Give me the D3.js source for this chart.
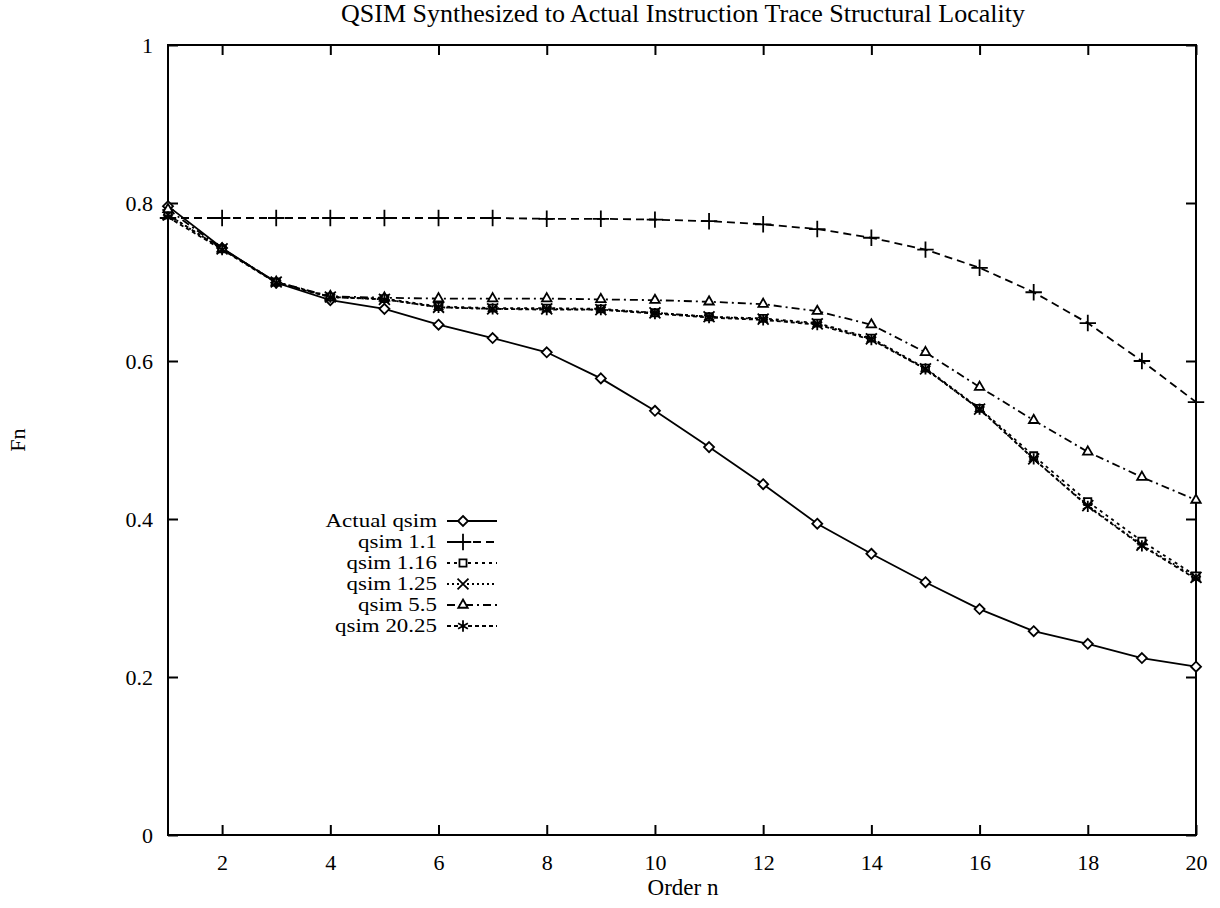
<!DOCTYPE html>
<html>
<head>
<meta charset="utf-8">
<script src="https://cdn.jsdelivr.net/npm/d3@7"></script>
<style>
  body { margin: 0; background: #fff; }
  text { font-family: "Liberation Serif", "Times New Roman", serif; fill: #000; }
</style>
</head>
<body>
<div id="wrapper"></div>
<script>
const orders = [1, 2, 3, 4, 5, 6, 7, 8, 9, 10, 11, 12, 13, 14, 15, 16, 17, 18, 19, 20];
const xTicks = [2, 4, 6, 8, 10, 12, 14, 16, 18, 20];
const yTicks = [0, 0.2, 0.4, 0.6, 0.8, 1];

const actualQsim = [0.796, 0.743, 0.699, 0.677, 0.666, 0.646, 0.629, 0.611, 0.578, 0.537,
  0.491, 0.444, 0.394, 0.356, 0.320, 0.286, 0.258, 0.242, 0.224, 0.213];
const qsim11 = [0.781, 0.781, 0.781, 0.781, 0.781, 0.781, 0.781, 0.780, 0.780, 0.779,
  0.777, 0.773, 0.767, 0.756, 0.741, 0.718, 0.687, 0.648, 0.600, 0.548];
const qsim116 = [0.785, 0.742, 0.700, 0.681, 0.679, 0.669, 0.667, 0.667, 0.666, 0.661,
  0.656, 0.654, 0.648, 0.629, 0.591, 0.540, 0.480, 0.422, 0.372, 0.328];
const qsim125 = [0.785, 0.742, 0.700, 0.681, 0.678, 0.668, 0.666, 0.666, 0.665, 0.661,
  0.656, 0.653, 0.647, 0.628, 0.590, 0.539, 0.476, 0.417, 0.367, 0.326];
const qsim55 = [0.792, 0.742, 0.700, 0.682, 0.680, 0.679, 0.679, 0.679, 0.678, 0.677,
  0.675, 0.672, 0.663, 0.646, 0.611, 0.567, 0.525, 0.485, 0.453, 0.424];
const qsim2025 = [0.782, 0.741, 0.699, 0.681, 0.678, 0.668, 0.666, 0.665, 0.665, 0.660,
  0.655, 0.652, 0.646, 0.627, 0.590, 0.539, 0.476, 0.416, 0.366, 0.324];

const seriesNames = ["Actual qsim", "qsim 1.1", "qsim 1.16", "qsim 1.25", "qsim 5.5", "qsim 20.25"];
const seriesValues = [actualQsim, qsim11, qsim116, qsim125, qsim55, qsim2025];

const styles = [
  { symbol: d3.symbolDiamond2, size: 64, dash: null },
  { symbol: d3.symbolPlus, size: 90, dash: "8,5" },
  { symbol: d3.symbolSquare2, size: 64, dash: "3,4" },
  { symbol: d3.symbolX, size: 80, dash: "2,3" },
  { symbol: d3.symbolTriangle2, size: 64, dash: "8,4,2,4" },
  { symbol: d3.symbolAsterisk, size: 90, dash: "4,3" },
];

const width = 1220;
const height = 908;
const margin = { top: 45, right: 24, bottom: 73, left: 168 };

const svg = d3.select("#wrapper")
  .append("svg")
  .attr("width", width)
  .attr("height", height);

const x = d3.scaleLinear()
  .domain([1, 20])
  .range([margin.left, width - margin.right]);

const y = d3.scaleLinear()
  .domain([0, 1])
  .range([height - margin.bottom, margin.top]);

const font = 22;
const tick = 10;

// axes (ticks point inwards, mirrored on all sides)
const bottomAxis = svg.append("g")
  .attr("transform", `translate(0,${y(0)})`)
  .call(d3.axisBottom(x).tickValues(xTicks).tickSize(-tick).tickPadding(tick + 9).tickFormat(d3.format("d")));
const topAxis = svg.append("g")
  .attr("transform", `translate(0,${y(1)})`)
  .call(d3.axisTop(x).tickValues(xTicks).tickSize(-tick).tickFormat(""));
const leftAxis = svg.append("g")
  .attr("transform", `translate(${x(1)},0)`)
  .call(d3.axisLeft(y).tickValues(yTicks).tickSize(-tick).tickPadding(tick + 5).tickFormat((d) => d3.format("")(d)));
const rightAxis = svg.append("g")
  .attr("transform", `translate(${x(20)},0)`)
  .call(d3.axisRight(y).tickValues(yTicks).tickSize(-tick).tickFormat(""));

[bottomAxis, topAxis, leftAxis, rightAxis].forEach((g) => {
  g.select(".domain").remove();
  g.selectAll("line").attr("stroke", "#000").attr("stroke-width", 2);
  g.selectAll("text").attr("font-size", font).attr("font-family", "Liberation Serif");
});

svg.append("rect")
  .attr("x", x(1))
  .attr("y", y(1))
  .attr("width", x(20) - x(1))
  .attr("height", y(0) - y(1))
  .attr("fill", "none")
  .attr("stroke", "#000")
  .attr("stroke-width", 2);

// titles
svg.append("text")
  .attr("x", 683)
  .attr("y", 22)
  .attr("text-anchor", "middle")
  .attr("font-size", 26)
  .text("QSIM Synthesized to Actual Instruction Trace Structural Locality");

svg.append("text")
  .attr("x", 683)
  .attr("y", 895)
  .attr("text-anchor", "middle")
  .attr("font-size", 23)
  .text("Order n");

svg.append("text")
  .attr("transform", `translate(25,${y(0.5)}) rotate(-90)`)
  .attr("text-anchor", "middle")
  .attr("font-size", font)
  .text("Fn");

// series
const line = d3.line()
  .x((d, i) => x(orders[i]))
  .y((d) => y(d));

seriesValues.forEach((values, k) => {
  const style = styles[k];
  const g = svg.append("g");
  g.append("path")
    .datum(values)
    .attr("d", line)
    .attr("fill", "none")
    .attr("stroke", "#000")
    .attr("stroke-width", 1.8)
    .attr("stroke-dasharray", style.dash);
  g.selectAll("path.mark")
    .data(values)
    .enter()
    .append("path")
    .attr("class", "mark")
    .attr("d", d3.symbol(style.symbol, style.size))
    .attr("transform", (d, i) => `translate(${x(orders[i])},${y(d)})`)
    .attr("fill", "#fff")
    .attr("stroke", "#000")
    .attr("stroke-width", 1.8);
});

// legend (labels widened a little so that rows stay 21px apart without touching)
const legend = svg.append("g").attr("transform", "translate(437,521)");
seriesNames.forEach((name, k) => {
  const style = styles[k];
  const row = legend.append("g").attr("transform", `translate(0,${k * 21})`);
  row.append("text")
    .attr("transform", "scale(1.24,1)")
    .attr("x", 0)
    .attr("y", 6)
    .attr("text-anchor", "end")
    .attr("font-size", 18.5)
    .text(name);
  row.append("line")
    .attr("x1", 10)
    .attr("x2", 60)
    .attr("stroke", "#000")
    .attr("stroke-width", 1.8)
    .attr("stroke-dasharray", style.dash);
  row.append("path")
    .attr("d", d3.symbol(style.symbol, style.size))
    .attr("transform", "translate(26,0)")
    .attr("fill", "#fff")
    .attr("stroke", "#000")
    .attr("stroke-width", 1.8);
});
</script>
</body>
</html>
